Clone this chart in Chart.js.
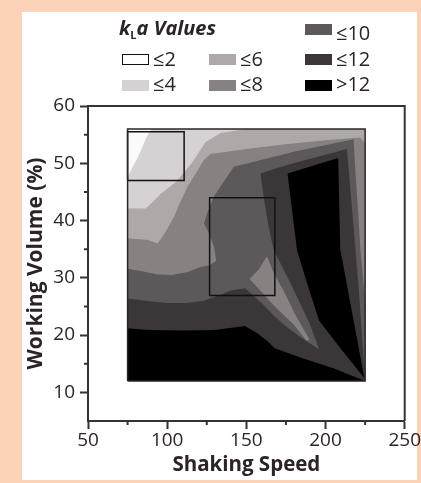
<!DOCTYPE html>
<html>
<head>
<meta charset="utf-8">
<script src="https://cdn.jsdelivr.net/npm/chart.js@4.4.1/dist/chart.umd.min.js"></script>
<style>
    html, body { margin: 0; padding: 0; }
    body {
        width: 421px; height: 483px; overflow: hidden; position: relative;
        background: #fcd3b8; font-family: 'Open Sans', sans-serif; color: #2b2324;
    }
    #panel { position: absolute; left: 22px; top: 12px; width: 395px; height: 468px; background: #fff; }
    #chart { position: absolute; left: 0; top: 0; }
    .key-title { position: absolute; left: 119px; top: 17px; font-size: 20px; line-height: 22px; font-weight: bold; font-style: italic; white-space: nowrap; }
    .key-title sub { font-size: 11px; vertical-align: -4px; font-style: normal; }
    .key-box { position: absolute; width: 27px; height: 11px; }
    .key-label { position: absolute; font-size: 20px; line-height: 22px; white-space: nowrap; }
</style>
</head>
<body>
<div id="panel"></div>
<canvas id="chart" width="421" height="483"></canvas>
<div class="key-title">k<sub>L</sub>a Values</div>
<div id="key"></div>
<script>
// axis ticks
const xTicks = [50, 100, 150, 200, 250];
const yTicks = [10, 20, 30, 40, 50, 60];
const xMinor = [75, 125, 175, 225];
const yMinor = [15, 25, 35, 45, 55];

// kLa classes, lowest first
const levelLabels = ['≤2', '≤4', '≤6', '≤8', '≤10', '≤12', '>12'];
const levelColors = ['#fcfbfb', '#d6d1d3', '#aea8a9', '#878182', '#5d5859', '#3b3738', '#000000'];

// measured grid (shaking speed x working volume)
const gridArea = [[75, 12], [75, 56], [225, 56], [225, 12]];

// region where kLa > 2
const above2 = [[75, 12], [75, 47.5], [78, 49.3], [81, 50.8], [84, 52.6], [87, 54.6], [90, 56], [225, 56], [225, 12]];
// kLa > 4
const above4 = [[75, 12], [75, 42.1], [86.5, 42.1], [91, 43.3], [96, 44.7], [105.4, 46.7], [111, 48.5], [115.9, 50.2],
    [124.3, 53.7], [133.7, 55.3], [150, 56], [225, 56], [225, 12]];
// kLa > 6
const above6 = [[75, 12], [75, 36.9], [88, 36.6], [93.9, 36], [99, 38], [104.4, 40.7], [108, 43], [112.8, 45.9],
    [118, 48.2], [123.3, 50.6], [127.4, 51.6], [150, 52.5], [175, 53.3], [200, 54], [221.9, 54.5], [225, 53.5], [225, 12]];
// kLa > 8
const above8 = [[75, 12], [75, 31.6], [85, 31.1], [94, 30.6], [103, 30.5], [113, 31], [120, 31.8], [126.8, 32.2],
    [131, 33], [129.5, 35.5], [126, 38], [123.3, 39.5], [125.5, 41.5], [129.5, 44.2], [135.8, 46.8], [142.1, 49.4],
    [180, 52], [217.7, 54.2], [219, 48], [220.5, 42], [222, 35], [225, 26], [225, 12]];
// tongue of kLa <= 8 reaching down to the right
const tongue8 = [[152, 29.8], [158, 31.5], [163, 33.8], [167, 31], [174, 27.5], [181, 23.5], [190, 19.2], [188, 19],
    [180, 21.8], [168, 25], [158, 28]];
// kLa > 10
const above10 = [[75, 12], [225, 12], [221, 28], [218, 38], [215.5, 46], [213.5, 52.5], [200, 51.5], [186, 50.5],
    [170, 49.2], [159, 48.2], [161, 44], [164, 39], [167.3, 34.8], [178, 29], [190, 22], [196, 17.5], [185, 19.5],
    [175, 21.5], [167, 23.5], [160, 25.5], [149.4, 28.2], [140, 27.8], [133.7, 27], [123, 26], [112.8, 25.6],
    [100, 25.6], [91.8, 25.8], [75, 26.4]];
// kLa > 12, low volume strip and high speed wedge
const above12Low = [[75, 12], [75, 21.2], [88, 20.9], [110, 20.8], [130, 20.9], [149, 21.6], [156, 20.5], [163, 19],
    [168, 17.7], [185, 16], [205, 14.2], [225, 12]];
const above12High = [[176, 48.2], [208, 50.9], [209.3, 35], [224.5, 12.5], [210, 17.5], [196, 22.5], [189, 28.5],
    [182, 34.8], [179, 41.5]];

// highlighted conditions
const boxLowSpeed = [[75, 47], [110.7, 47], [110.7, 55.5], [75, 55.5], [75, 47]];
const boxMidSpeed = [[126.8, 26.9], [168, 26.9], [168, 44], [126.8, 44], [126.8, 26.9]];

const axisColor = '#3a3131';
const textColor = '#2b2324';
const fontFamily = "'Open Sans', sans-serif";

// legend
const keyCols = { '≤2': [122, 1], '≤4': [122, 2], '≤6': [209, 1], '≤8': [209, 2], '≤10': [305, 0], '≤12': [305, 1], '>12': [305, 2] };
const rowBoxTop = [24, 54, 80];
const rowTextTop = [21.5, 47.8, 73.3];
const key = document.getElementById('key');
levelLabels.forEach((label, i) => {
    const [left, row] = keyCols[label];
    const box = document.createElement('div');
    box.className = 'key-box';
    box.style.left = left + 'px';
    box.style.top = rowBoxTop[row] + 'px';
    box.style.background = i === 0 ? '#fff' : levelColors[i];
    if (i === 0) { box.style.border = '1px solid #111'; box.style.width = '25px'; box.style.height = '9px'; }
    key.appendChild(box);
    const txt = document.createElement('div');
    txt.className = 'key-label';
    txt.style.left = (left + 31) + 'px';
    txt.style.top = rowTextTop[row] + 'px';
    txt.textContent = label;
    key.appendChild(txt);
});

const toPoints = (arr) => arr.map(([x, y]) => ({ x: x, y: y }));
const region = (arr, color) => ({ data: toPoints(arr), fillColor: color, showLine: false, pointRadius: 0 });
const outline = (arr, color, width) => ({
    data: toPoints(arr), showLine: true, fill: false, borderColor: color, borderWidth: width, pointRadius: 0, tension: 0
});

// fills each region dataset as a closed polygon, in dataset order
const regionFill = {
    id: 'regionFill',
    beforeDatasetsDraw(chart) {
        const ctx = chart.ctx;
        chart.data.datasets.forEach((ds, i) => {
            if (!ds.fillColor) return;
            const pts = chart.getDatasetMeta(i).data;
            ctx.save();
            ctx.beginPath();
            pts.forEach((p, j) => j ? ctx.lineTo(p.x, p.y) : ctx.moveTo(p.x, p.y));
            ctx.closePath();
            ctx.fillStyle = ds.fillColor;
            ctx.fill();
            ctx.restore();
        });
    }
};

// closes the frame and adds the short minor ticks
const frame = {
    id: 'frame',
    afterDraw(chart) {
        const ctx = chart.ctx;
        const { left, right, top, bottom } = chart.chartArea;
        const xs = chart.scales.x, ys = chart.scales.y;
        ctx.save();
        ctx.strokeStyle = axisColor;
        ctx.lineWidth = 2;
        ctx.beginPath();
        ctx.moveTo(left - 1, top);
        ctx.lineTo(right, top);
        ctx.lineTo(right, bottom);
        xMinor.forEach(v => { const px = xs.getPixelForValue(v); ctx.moveTo(px, bottom); ctx.lineTo(px, bottom + 4); });
        yMinor.forEach(v => { const py = ys.getPixelForValue(v); ctx.moveTo(left, py); ctx.lineTo(left - 4, py); });
        ctx.stroke();
        ctx.restore();
    }
};

new Chart(document.getElementById('chart'), {
    type: 'scatter',
    data: {
        datasets: [
            region(gridArea, levelColors[0]),
            region(above2, levelColors[1]),
            region(above4, levelColors[2]),
            region(above6, levelColors[3]),
            region(above8, levelColors[4]),
            region(tongue8, levelColors[3]),
            region(above10, levelColors[5]),
            region(above12Low, levelColors[6]),
            region(above12High, levelColors[6]),
            outline(gridArea.concat([gridArea[0]]), '#2a2626', 1.5),
            outline(boxLowSpeed, '#111', 1.5),
            outline(boxMidSpeed, '#111', 1.5)
        ]
    },
    options: {
        responsive: false,
        animation: false,
        events: [],
        layout: { padding: { top: 106, right: 16, bottom: 0, left: 0 } },
        plugins: { legend: { display: false }, tooltip: { enabled: false } },
        scales: {
            x: {
                type: 'linear', min: 50, max: 250,
                afterBuildTicks(s) { s.ticks = xTicks.map(v => ({ value: v })); },
                afterFit(s) { s.height = 62; },
                grid: { drawOnChartArea: false, tickLength: 8, tickWidth: 2, tickColor: axisColor },
                border: { color: axisColor, width: 2 },
                ticks: { font: { family: fontFamily, size: 19 }, color: textColor, padding: 0, maxRotation: 0, autoSkip: false },
                title: {
                    display: true, text: 'Shaking Speed', color: textColor,
                    font: { family: fontFamily, size: 20.5, weight: 'bold' }, padding: { top: 0, bottom: 6 }
                }
            },
            y: {
                type: 'linear', min: 5, max: 60,
                afterBuildTicks(s) { s.ticks = yTicks.map(v => ({ value: v })); },
                afterFit(s) { s.width = 88; },
                grid: { drawOnChartArea: false, tickLength: 8, tickWidth: 2, tickColor: axisColor },
                border: { color: axisColor, width: 2 },
                ticks: { font: { family: fontFamily, size: 19 }, color: textColor, padding: 5, autoSkip: false },
                title: {
                    display: true, text: 'Working Volume (%)', color: textColor,
                    font: { family: fontFamily, size: 21, weight: 'bold' }, padding: { top: 23, bottom: 0 }
                }
            }
        }
    },
    plugins: [regionFill, frame]
});
</script>
</body>
</html>
